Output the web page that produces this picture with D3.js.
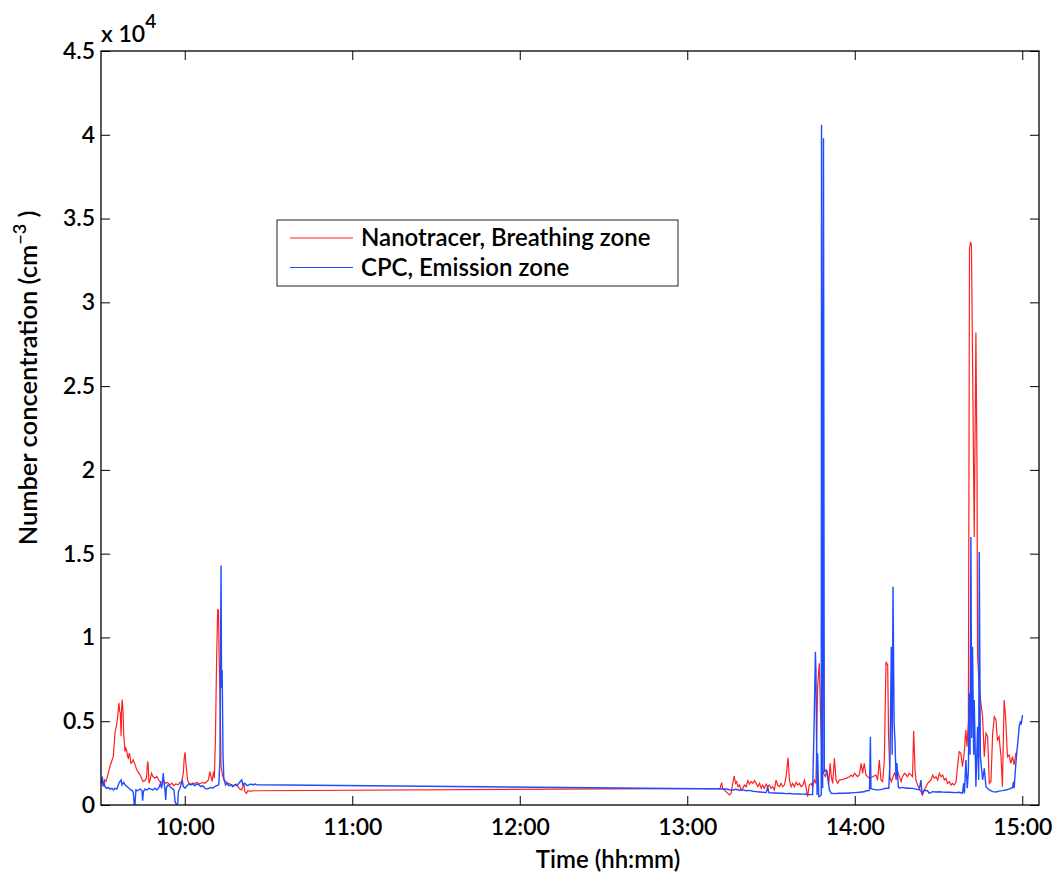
<!doctype html>
<html>
<head>
<meta charset="utf-8">
<title>number concentration</title>
<script src="https://d3js.org/d3.v7.min.js"></script>
<style>
  body { margin:0; background:#fff; }
  text { font-family: Lato, "Open Sans", sans-serif; font-size:24px; fill:#000; font-weight:600; }
  .tick text { font-size:23px; }
</style>
</head>
<body>
<svg></svg>
<script>
// times are minutes after midnight
let nanoTime = [570.2,570.5,570.9,571.3,571.8,572.6,573.2,573.8,574.4,574.8,575.0,575.5,576.0,576.3,576.4,576.7,576.9,577.2,577.4,577.6,577.9,578.1,578.6,578.9,579.2,579.5,579.8,580.1,580.4,580.7,581.0,581.5,582.0,582.8,583.4,584.0,584.5,585.1,585.7,586.3,586.7,586.9,587.2,587.6,588.1,588.6,589.3,590.0,590.8,591.7,592.4,593.1,593.8,594.7,595.4,596.1,596.8,597.6,598.3,598.8,599.5,599.8,600.1,600.4,601.0,601.5,602.2,602.9,603.6,604.4,605.1,605.8,606.5,607.2,607.9,608.5,609.0,609.4,609.8,610.3,610.6,611.0,611.4,611.8,612.1,612.3,612.6,613.0,613.5,614.0,614.7,615.5,616.2,616.9,617.6,618.3,619.1,619.7,620.4,620.8,621.2,621.5,622.1,622.6,623.3,625.1,626.2,
  791.5,791.8,792.3,792.7,793.9,795.1,795.7,796.3,796.8,797.3,797.7,798.2,798.7,799.3,799.9,800.5,801.1,801.7,802.3,802.9,803.5,804.1,804.7,805.3,805.9,806.5,807.0,807.6,808.3,808.8,809.4,810.0,810.6,811.2,811.8,812.4,813.0,813.6,814.2,814.8,815.4,816.1,816.6,817.2,817.8,818.4,819.0,819.6,820.2,820.8,821.4,822.0,822.6,823.1,823.7,824.4,824.9,825.5,826.1,826.7,827.3,827.8,828.3,828.8,829.5,830.0,830.7,831.2,831.6,832.1,832.7,833.3,833.9,834.5,835.7,836.9,838.1,838.7,839.3,839.9,840.5,841.0,841.6,842.3,842.8,843.4,844.0,844.6,845.2,846.4,847.6,848.2,848.8,849.4,850.0,850.6,851.2,851.8,852.1,852.6,853.1,854.2,854.8,855.4,856.0,856.6,857.1,857.8,858.4,858.9,859.5,860.2,860.7,861.1,861.6,861.9,862.5,863.1,863.7,864.3,864.9,865.5,866.1,866.7,867.3,867.9,868.5,869.1,869.7,870.3,870.9,871.5,872.1,872.7,873.2,873.9,874.5,875.0,875.6,876.3,876.8,877.4,878.0,878.6,879.2,879.8,880.2,880.7,881.1,881.5,881.8,882.8,883.4,883.8,884.0,884.6,885.2,885.8,886.4,887.0,887.6,888.2,888.8,889.4,890.0,890.6,891.1,891.7,892.4,892.9,893.5,894.1,894.7,895.3,895.9,896.5,897.1,897.7,898.1];
let nanoConc = [1300,1550,1200,1500,1400,1900,2300,2600,2900,3800,4300,4700,5300,5900,6100,5600,5500,4100,5800,6300,5600,4300,3200,3400,3250,2900,2800,3100,2900,2500,2500,2700,2500,2100,1950,1800,1600,1400,1450,1600,2600,2400,1300,1500,1900,1700,1600,1700,1450,1330,1450,1300,1350,1200,1300,1150,1250,1200,1350,1300,1900,2800,3150,2500,1500,1300,1250,1200,1300,1350,1250,1300,1350,1300,1400,1500,2000,1700,1400,2000,1600,4000,8600,11700,11600,9000,6700,2300,1800,1500,1400,1300,1250,1200,1150,1250,1100,950,900,1100,1300,800,700,850,830,850,850,
  995,1000,1330,990,800,600,700,1290,1730,1290,1390,1090,1190,900,995,1190,1090,1450,1250,1390,1290,1450,1290,1090,1290,995,1190,995,1250,1090,1190,995,1090,900,1490,1190,1090,1290,1090,1190,1690,2820,1490,1090,1290,1090,1350,1190,1290,1090,1190,1490,995,500,1190,1290,1090,1490,1290,7060,8460,5070,2290,1890,1690,2090,1290,2490,1690,1290,2790,1490,1290,1490,1530,1590,1690,1790,1690,1890,1790,1690,1790,2490,1890,2490,1790,1690,1590,1690,1790,1490,2690,1490,1390,2690,8550,8350,4280,1690,1390,1890,1690,1990,1690,1390,1690,1890,1790,1690,1890,1790,1690,4420,2090,1490,1190,995,800,600,900,1090,1290,1390,1490,1790,1590,1690,1490,1890,1690,1790,1490,1590,1290,1390,1190,1290,1190,1390,2290,3180,3080,2290,3080,4480,3480,5000,33200,33600,33400,16000,28200,20000,8850,7000,6070,5270,2880,4280,4080,1290,1400,4280,5270,5070,3880,4080,2880,1090,6270,5070,2880,2980,2490,2880,2390,3080,3180];

let cpcTime = [570.2,570.5,570.7,571.1,571.4,572.0,572.5,573.2,573.9,574.5,575.0,575.7,576.4,577.2,577.5,578.1,578.6,579.3,580.0,580.7,581.3,581.6,581.9,582.2,582.5,582.9,583.6,584.1,584.7,584.9,585.2,585.7,586.5,587.2,587.9,588.6,589.3,590.0,590.8,591.3,591.7,592.0,592.3,592.5,592.9,593.2,593.4,594.0,594.7,595.4,596.1,596.6,597.0,597.5,597.7,598.3,598.8,599.1,599.5,600.1,600.8,601.5,602.2,602.9,603.6,604.4,605.1,605.8,606.5,607.2,607.9,608.7,609.4,610.1,610.8,611.5,612.2,612.6,613.0,613.2,613.4,613.7,614.0,614.6,615.1,615.8,616.5,617.2,618.0,618.7,619.4,620.4,620.8,621.5,622.3,623.0,623.7,624.4,625.1,625.8,
  793.9,795.1,796.3,797.4,798.7,799.9,801.1,802.3,803.5,804.7,805.9,807.0,808.3,808.8,809.2,810.6,811.8,813.0,814.2,815.4,816.6,817.8,819.0,820.2,821.4,822.6,823.7,824.9,825.5,825.9,826.1,826.5,826.7,827.1,827.4,828.0,828.1,828.5,828.8,829.1,829.7,830.3,830.9,831.6,832.7,834.5,836.2,838.1,839.9,841.6,843.4,844.0,844.9,845.3,845.6,845.8,846.4,847.6,848.8,850.0,851.2,852.2,852.6,853.1,853.4,853.7,854.1,854.4,854.8,855.1,855.6,856.0,857.1,858.4,859.5,860.7,861.9,863.1,863.7,864.1,864.9,866.1,866.7,867.9,869.1,870.3,871.5,872.7,873.9,875.0,876.3,877.4,878.6,879.0,879.3,879.8,880.3,880.7,881.0,881.3,881.6,881.9,882.2,882.6,882.8,883.4,884.0,884.4,884.6,885.0,885.8,886.4,887.0,888.2,889.4,890.6,891.7,892.9,894.1,895.3,896.5,896.9,897.1,897.5,898.0,898.5,898.9,899.4,899.6,900.1];
let cpcConc = [1300,1700,1100,1400,1100,1000,1050,950,1000,900,1000,950,1300,1500,1200,1350,1200,1100,1000,900,850,700,50,50,900,850,900,950,850,250,800,950,900,1000,950,900,1000,900,1050,1300,1000,1300,1900,1500,900,300,1000,1200,1100,1000,900,150,50,100,800,1000,1300,1500,1100,1000,1150,1250,1200,1300,1150,1250,1200,1100,1150,1000,950,1000,1050,1000,1100,1150,1200,2700,14300,7000,8060,3000,1600,1200,1300,1150,1200,1100,1200,1150,1300,1500,1200,1300,1150,1200,1250,1200,1250,1210,
  955,910,895,935,880,900,850,870,820,800,780,760,740,1090,740,720,720,700,700,680,690,670,660,660,650,640,630,620,5270,9150,8000,600,3080,500,500,600,40600,1000,39800,2000,2090,1690,900,700,680,700,700,720,740,760,790,850,850,900,4080,1000,950,900,900,950,1000,995,2500,9450,3000,13030,4870,3880,1500,2500,1094,1000,1050,1000,1000,995,950,900,1490,700,880,850,700,800,780,790,770,760,760,750,740,756,700,1290,700,2686,1000,2000,6664,3000,16000,4000,9450,3000,6267,1094,4675,1500,15100,2885,1492,2188,1094,895,800,780,830,860,895,950,1050,1393,1000,2000,3084,3879,4675,5000,4800,5371];

let timeTicks = [600, 660, 720, 780, 840, 900];
let timeLabels = ['10:00', '11:00', '12:00', '13:00', '14:00', '15:00'];
let concTicks = [0, 5000, 10000, 15000, 20000, 25000, 30000, 35000, 40000, 45000];
let concLabels = ['0', '0.5', '1', '1.5', '2', '2.5', '3', '3.5', '4', '4.5'];
let seriesNames = ['Nanotracer, Breathing zone', 'CPC, Emission zone'];
let seriesColors = ['#ff2020', '#1f4cff'];

let w = 1056, h = 879;
let padL = 101, padT = 51, padR = 1039, padB = 805;

let svg = d3.select('svg').attr('width', w).attr('height', h);

let x = d3.scaleLinear().domain([570, 906]).range([padL, padR]);
let y = d3.scaleLinear().domain([0, 45000]).range([padB, padT]);

let line = d3.line()
             .x(function(d) { return x(d[0]); })
             .y(function(d) { return y(d[1]); });

let nano = d3.zip(nanoTime, nanoConc);
let cpc = d3.zip(cpcTime, cpcConc);

svg.append('path')
   .datum(nano)
   .attr('d', line)
   .attr('fill', 'none')
   .attr('stroke', seriesColors[0])
   .attr('stroke-width', 1.2);

svg.append('path')
   .datum(cpc)
   .attr('d', line)
   .attr('fill', 'none')
   .attr('stroke', seriesColors[1])
   .attr('stroke-width', 1.4);

// axes, ticks pointing inward on all four sides
let xb = svg.append('g').attr('transform', 'translate(0,' + padB + ')')
            .call(d3.axisBottom(x).tickValues(timeTicks)
                    .tickFormat(function(d, i) { return timeLabels[i]; })
                    .tickSizeInner(-9).tickSizeOuter(0));
xb.selectAll('text').attr('y', 30).attr('dy', null);

svg.append('g').attr('transform', 'translate(0,' + padT + ')')
   .call(d3.axisTop(x).tickValues(timeTicks).tickFormat('').tickSizeInner(-9).tickSizeOuter(0));

svg.append('g').attr('transform', 'translate(' + padL + ',0)')
   .call(d3.axisLeft(y).tickValues(concTicks)
           .tickFormat(function(d, i) { return concLabels[i]; })
           .tickSizeInner(-9).tickSizeOuter(0).tickPadding(6));

svg.append('g').attr('transform', 'translate(' + padR + ',0)')
   .call(d3.axisRight(y).tickValues(concTicks).tickFormat('').tickSizeInner(-9).tickSizeOuter(0));

svg.selectAll('.domain').remove();
svg.selectAll('.tick line').attr('stroke', '#000').attr('stroke-width', 1);
svg.selectAll('g').attr('font-size', null).attr('font-family', null);

svg.append('rect')
   .attr('x', padL).attr('y', padT)
   .attr('width', padR - padL).attr('height', padB - padT)
   .attr('fill', 'none').attr('stroke', '#000').attr('stroke-width', 1.3);

// exponent
let ex = svg.append('text').attr('x', padL).attr('y', 42).style('font-size', '23px');
ex.append('tspan').text('x 10');
ex.append('tspan').attr('dy', -14).style('font-size', '19px').text('4');

// axis titles
svg.append('text')
   .attr('x', 608).attr('y', 868)
   .attr('text-anchor', 'middle')
   .text('Time (hh:mm)');

let yt = svg.append('text')
            .attr('transform', 'translate(37,378) rotate(-90)')
            .attr('text-anchor', 'middle')
            .style('font-size', '25.5px');
yt.append('tspan').text('Number concentration (cm');
yt.append('tspan').attr('dy', -11).style('font-size', '18px').text('\u22123');
yt.append('tspan').attr('dy', 11).text('   )');

// legend
let lg = svg.append('g');
lg.append('rect')
  .attr('x', 277).attr('y', 220).attr('width', 401).attr('height', 66)
  .attr('fill', '#fff').attr('stroke', '#222').attr('stroke-width', 1);
seriesNames.forEach(function(name, i) {
    let ly = 238 + i * 29.5;
    lg.append('line')
      .attr('x1', 290).attr('x2', 353).attr('y1', ly).attr('y2', ly)
      .attr('stroke', seriesColors[i]).attr('stroke-width', 1.2);
    lg.append('text')
      .attr('x', 361).attr('y', ly + 8)
      .text(name);
});
</script>
</body>
</html>
